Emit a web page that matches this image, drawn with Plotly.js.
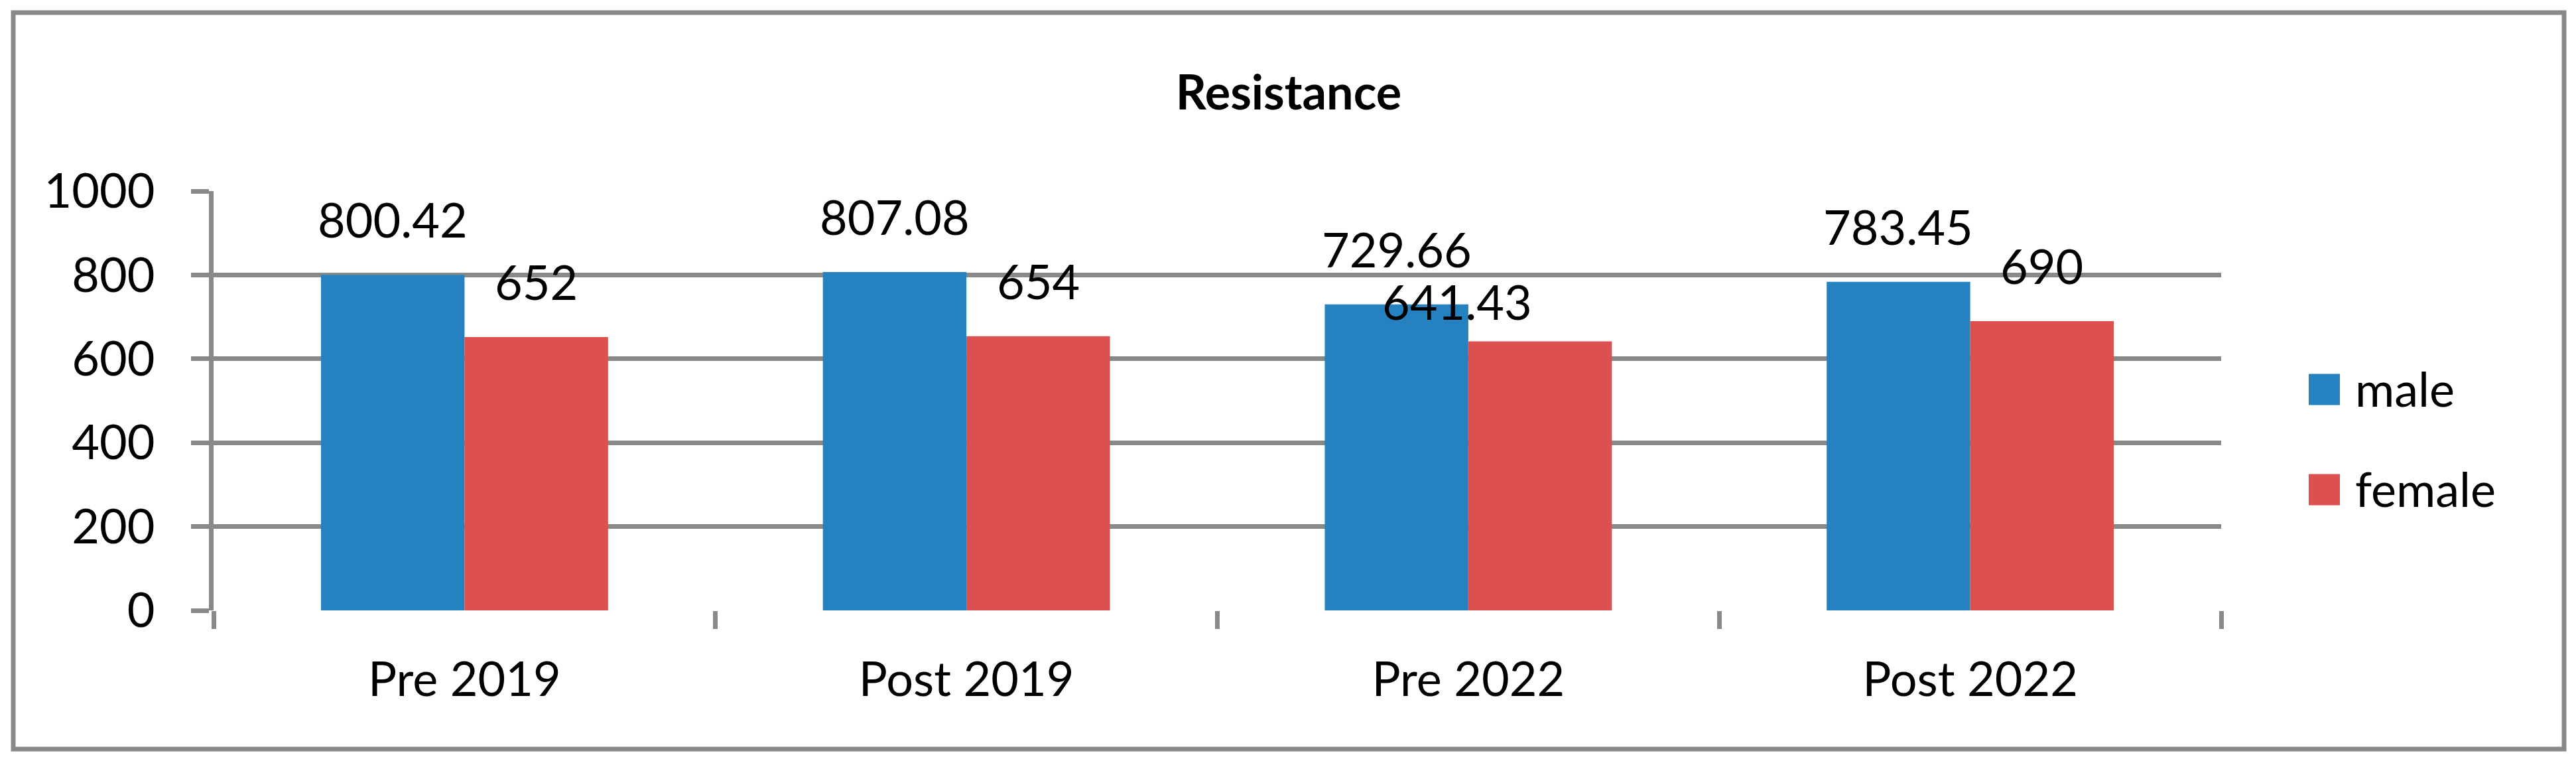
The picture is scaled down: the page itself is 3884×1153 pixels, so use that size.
<!DOCTYPE html>
<html>
<head>
<meta charset="utf-8">
<script src="https://cdn.plot.ly/plotly-3.0.1.min.js"></script>
<style>html,body{margin:0;padding:0;background:#fff;overflow:hidden}</style>
</head>
<body>
<div id="chart" style="width:3884px;height:1153px"></div>
<script>
// ---- data ----
const categories = ["Pre 2019", "Post 2019", "Pre 2022", "Post 2022"];
const seriesNames = ["male", "female"];
const maleValues = [800.42, 807.08, 729.66, 783.45];
const femaleValues = [652, 654, 641.43, 690];
const yTickVals = [0, 200, 400, 600, 800, 1000];
const chartTitle = "Resistance";

// ---- styling / layout ----
const seriesColors = ["#2581C0", "#DD5050"];
const W = 3884, H = 1153;
const M = {l: 322, r: 535, t: 288, b: 233};
const BARGAP = 0.428;
const FONT = "Lato, 'Open Sans', sans-serif";
const FS = 72;
const GREY = "#898989";
const LW = 7;
const pw = W - M.l - M.r, ph = H - M.t - M.b;
const px2x = p => (p - M.l) / pw;
const py2y = p => 1 - (p - M.t) / ph;
// manual nudges of individual data labels (pixels), as in the source chart
const labelNudge = {"1|2": {dx: -125, dy: -23}};
const LABEL_LIFT = 84;

const seriesValues = [maleValues, femaleValues];
const barHalf = (1 - BARGAP) / 4;

const traces = seriesNames.map((name, s) => ({
  type: "bar",
  name: name,
  x: categories,
  y: seriesValues[s],
  marker: {color: seriesColors[s], line: {width: 0}},
  showlegend: false,
  hoverinfo: "x+y+name"
}));

const annotations = [];
seriesValues.forEach((vals, s) => {
  vals.forEach((v, i) => {
    const n = labelNudge[s + "|" + i] || {dx: 0, dy: 0};
    annotations.push({
      xref: "x", yref: "y",
      x: i + (s === 0 ? -barHalf : barHalf),
      y: v,
      text: String(v),
      showarrow: false,
      xanchor: "center", yanchor: "middle",
      yshift: LABEL_LIFT + n.dy, xshift: n.dx,
      font: {family: FONT, size: FS, color: "#000"}
    });
  });
});

// legend (custom, large swatches)
const legendSwatchX = [3481, 3528];
const legendRowY = [587, 738];
const SW = 47;
const shapes = [];
seriesNames.forEach((name, s) => {
  shapes.push({
    type: "rect", xref: "paper", yref: "paper",
    x0: px2x(legendSwatchX[0]), x1: px2x(legendSwatchX[1]),
    y0: py2y(legendRowY[s] + SW / 2), y1: py2y(legendRowY[s] - SW / 2),
    fillcolor: seriesColors[s], line: {width: 0}
  });
  annotations.push({
    xref: "paper", yref: "paper",
    x: px2x(3549), y: py2y(legendRowY[s] - 2),
    xanchor: "left", yanchor: "middle",
    text: name, showarrow: false,
    font: {family: FONT, size: FS, color: "#000"}
  });
});

// outer frame
shapes.push({
  type: "rect", xref: "paper", yref: "paper",
  x0: px2x(20), x1: px2x(3866), y0: py2y(1129), y1: py2y(19),
  line: {color: GREY, width: LW}, fillcolor: "rgba(0,0,0,0)", layer: "below"
});

const layout = {
  width: W, height: H,
  margin: M,
  paper_bgcolor: "#fff", plot_bgcolor: "#fff",
  font: {family: FONT, size: FS, color: "#000"},
  title: {
    text: "<b>" + chartTitle + "</b>",
    xref: "container", yref: "container",
    x: 1943 / W, y: 1 - 140 / H, xanchor: "center", yanchor: "middle",
    font: {family: FONT, size: FS, color: "#000"}
  },
  barmode: "group",
  bargap: BARGAP,
  bargroupgap: 0,
  showlegend: false,
  xaxis: {
    type: "category",
    showgrid: false,
    showline: false,
    zeroline: false,
    ticks: "outside", tickson: "boundaries",
    ticklen: 27, tickwidth: LW, tickcolor: GREY,
    ticklabelstandoff: 56,
    tickfont: {family: FONT, size: FS, color: "#000"}
  },
  yaxis: {
    range: [0, 1000],
    tickvals: yTickVals,
    ticktext: yTickVals.map(String),
    showgrid: true, gridcolor: GREY, gridwidth: LW,
    zeroline: false,
    showline: true, linecolor: GREY, linewidth: LW,
    ticks: "outside", ticklen: 27, tickwidth: LW, tickcolor: GREY,
    ticklabelstandoff: 40,
    tickfont: {family: FONT, size: FS, color: "#000"}
  },
  shapes: shapes,
  annotations: annotations
};

Plotly.newPlot("chart", traces, layout, {staticPlot: true, displayModeBar: false});
</script>
</body>
</html>
